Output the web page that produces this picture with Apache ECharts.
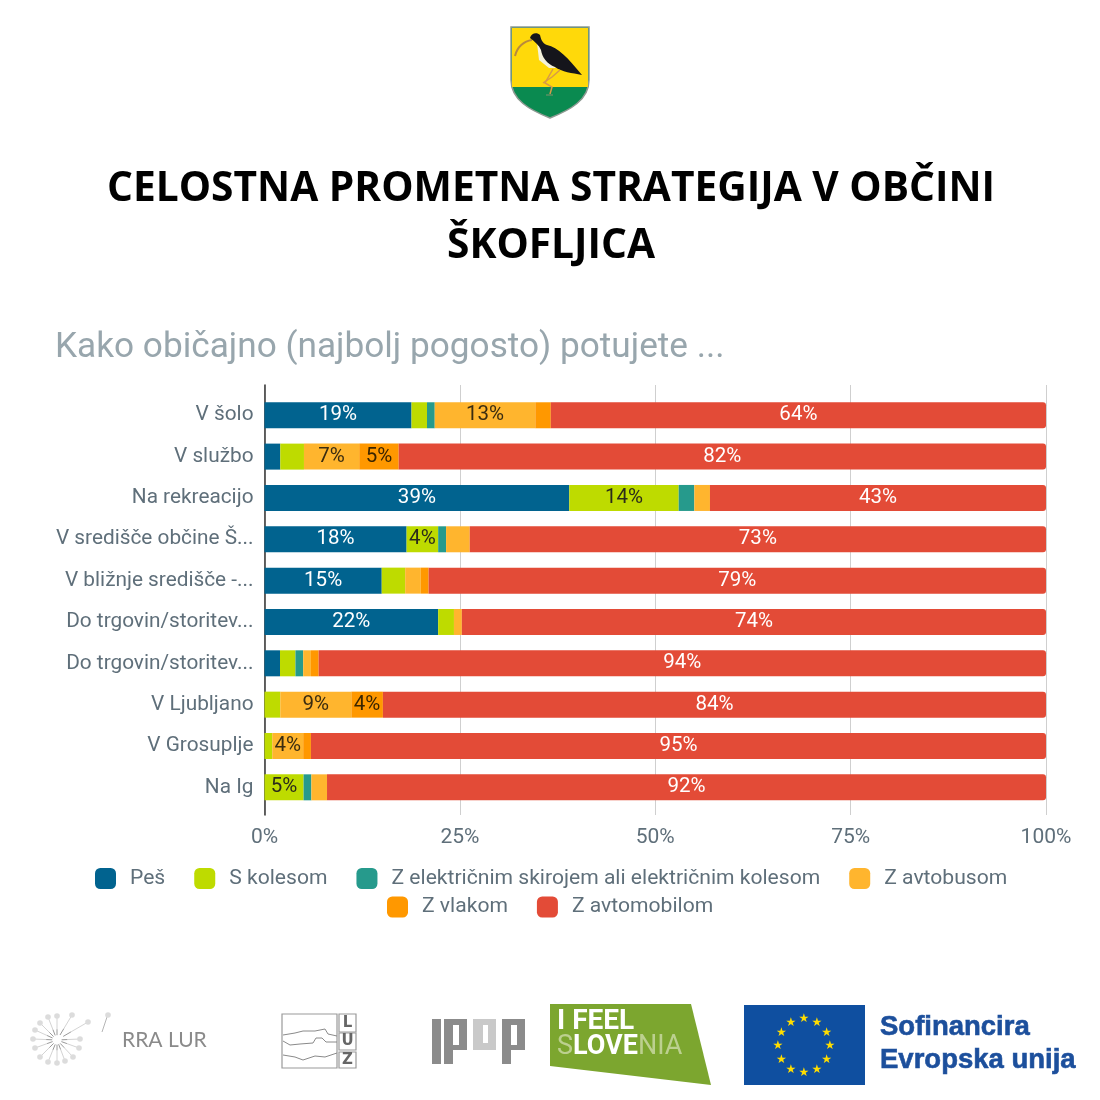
<!DOCTYPE html>
<html><head><meta charset="utf-8">
<style>html,body{margin:0;padding:0;background:#fff}#c{width:1100px;height:1100px}</style>
<script src="https://cdn.jsdelivr.net/npm/echarts@6/dist/echarts.min.js"></script>
</head><body><div id="c"></div>
<script>
const categories = ['V šolo','V službo','Na rekreacijo','V središče občine Š...','V bližnje središče -...','Do trgovin/storitev...','Do trgovin/storitev...','V Ljubljano','V Grosuplje','Na Ig'];
const seriesNames = ['Peš','S kolesom','Z električnim skirojem ali električnim kolesom','Z avtobusom','Z vlakom','Z avtomobilom'];
const pes       = [19, 2, 39, 18, 15, 22, 2, 0, 0, 0];
const kolo      = [2, 3, 14, 4, 3, 2, 2, 2, 1, 5];
const skiro     = [1, 0, 2, 1, 0, 0, 1, 0, 0, 1];
const avtobus   = [13, 7, 2, 3, 2, 1, 1, 9, 4, 2];
const vlak      = [2, 5, 0, 0, 1, 0, 1, 4, 1, 0];
const avto      = [64, 82, 43, 73, 79, 74, 94, 84, 95, 92];
const colors = ['#01638f','#bedb00','#269a8c','#ffb52e','#ff9800','#e34b37'];
const labelColors = ['#fff','#2b2b1a','#fff','#3a2c10','#3a2500','#fff'];
const xTicks = [0,25,50,75,100];

const seriesValues = [pes,kolo,skiro,avtobus,vlak,avto];
const axisColor = '#5f6f7a';
const font = 'Roboto';
// Percent-stacked: each row's rounded percentages are scaled to fill 100%.
const totals = categories.map((_,r)=>seriesValues.reduce((s,a)=>s+a[r],0));

const series = seriesNames.map((name,i)=>({
  name, type:'bar', stack:'all', xAxisIndex:1, yAxisIndex:1, barWidth:26,
  data: seriesValues[i].map((v,r)=>v*100/totals[r]),
  itemStyle:{color:colors[i], borderRadius: i===5?[0,3,3,0]:0},
  label:{show:true, position:'inside', fontFamily:font, fontSize:20.5, color:labelColors[i],
    formatter:p=>seriesValues[i][p.dataIndex]>=4?seriesValues[i][p.dataIndex]+'%':''}
}));

function txt(x,y,text,o){return {type:'text',silent:true,style:Object.assign({x,y,text,fontFamily:font,textAlign:'left',textVerticalAlign:'middle'},o||{})};}
let pathCount=0;
function path(d,fill,stroke,lw){
  const name='logoPath'+(pathCount++);
  echarts.graphic.registerShape(name,echarts.graphic.extendPath(d,{}));
  return {type:name,silent:true,style:{fill:fill||'none',stroke:stroke||'none',lineWidth:lw||0}};
}
function rect(x,y,w,h,fill,stroke,lw){return {type:'rect',silent:true,shape:{x,y,width:w,height:h},style:{fill:fill||'transparent',stroke:stroke||null,lineWidth:lw||0}};}
function line(pts,stroke,lw){return {type:'polyline',silent:true,shape:{points:pts},style:{fill:null,stroke,lineWidth:lw}};}
function poly(pts,fill,stroke,lw){return {type:'polygon',silent:true,shape:{points:pts},style:{fill,stroke:stroke||null,lineWidth:lw||0}};}

const g = [];
// coat of arms
g.push(path('M511 27 L589 27 L589 80 C589 100 570 110 550 118 C530 110 511 100 511 80 Z','#0a8a50','#8f9a93',1.5));
g.push(poly([[512,28],[588,28],[588,87],[512,87]],'#ffd90a'));
g.push(path('M532 40 C524 41 517 47 515 56','none','#b98a3c',2));
g.push(path('M537 43 L539 60 L549 68 L556 68 L546 56 Z','#f4f2dc'));
g.push(path('M530 38 C531 33 537 32 540 35 C541 39 542 43 547 45 C558 47 568 58 582 75 C572 73 562 72 555 67 C547 64 542 57 541 50 C539 45 535 42 530 38 Z','#15151b'));
g.push(path('M553 69 L545 83 L552 87 L550 94','none','#d79a48',1.5));
g.push(path('M560 70 L552 77 L543 83','none','#d79a48',1.5));
g.push(line([[546,95],[553,95]],'#5a8f63',1.5));

// heading
g.push(txt(551,189,'CELOSTNA PROMETNA STRATEGIJA V OBČINI',{fontFamily:'Open Sans',fontWeight:700,fontSize:40.7,fill:'#000',textAlign:'center'}));
g.push(txt(551,246,'ŠKOFLJICA',{fontFamily:'Open Sans',fontWeight:700,fontSize:40.7,fill:'#000',textAlign:'center'}));
// chart title
g.push(txt(55,348,'Kako običajno (najbolj pogosto) potujete ...',{fontSize:35.2,fill:'#98a6ad'}));

// RRA LUR logo
const cx=57, cy=1040;
[[33,1039],[35,1030],[40,1023],[48,1017],[57,1016],[72,1015],[88,1022],[80,1039],[79,1048],[73,1057],[65,1061],[57,1063],[48,1062],[40,1057],[35,1048]].forEach(p=>{
  const ix=cx+(p[0]-cx)*0.2, iy=cy+(p[1]-cy)*0.2, mx=cx+(p[0]-cx)*0.45, my=cy+(p[1]-cy)*0.45;
  g.push(line([[mx,my],p],'#d4d4d4',1));
  g.push(line([[ix,iy],[mx,my]],'#9a9a9a',1));
  g.push({type:'circle',silent:true,shape:{cx:p[0],cy:p[1],r:2.8},style:{fill:'#dcdcdc'}});
});
g.push(line([[102,1032],[107,1017]],'#b5b5b5',1));
g.push({type:'circle',silent:true,shape:{cx:108,cy:1015,r:2.8},style:{fill:'#dcdcdc'}});
g.push(txt(122,1040,'RRA LUR',{fontSize:21,fill:'#8a8a8a',fontFamily:'Lato'}));

// LUZ logo
g.push(rect(282,1014,55,54,'#fff','#9a9a9a',1.2));
[['L',1014,18],['U',1033,17],['Z',1052,16]].forEach(l=>{
  g.push(rect(339,l[1],17,l[2],'#fff','#9a9a9a',1.2));
  g.push(txt(347.5,l[1]+l[2]/2,l[0],{fontFamily:'DejaVu Sans',fontWeight:700,fontSize:15,fill:'#666',textAlign:'center'}));
});
g.push(line([[283,1035],[295,1033],[303,1031],[315,1031],[325,1029],[328,1034],[337,1036]],'#8a8a8a',1));
g.push(line([[283,1041],[290,1045],[300,1044],[313,1043],[316,1038],[322,1038],[326,1042],[337,1042]],'#8a8a8a',1));
g.push(line([[283,1055],[295,1057],[303,1060],[315,1056],[325,1057],[337,1053]],'#8a8a8a',1));

// IPOP logo
g.push(rect(432,1019,9,45,'#8b8b8b'));
g.push(rect(444,1019,9,45,'#8b8b8b'));
g.push(rect(444,1019,23,31,'#8b8b8b'));
g.push(rect(453,1025,6,20,'#fff'));
g.push(rect(473,1019,23,31,'#c9c9c9'));
g.push(rect(483,1025,5,18,'#fff'));
g.push(rect(502,1019,9,45,'#8b8b8b'));
g.push(rect(502,1019,23,31,'#8b8b8b'));
g.push(rect(511,1025,6,20,'#fff'));

// I feel Slovenia
g.push(poly([[550,1004],[691,1004],[711,1085],[550,1066]],'#7ca62f'));
g.push(txt(557,1022,'I FEEL',{fontFamily:'Roboto',fontWeight:700,fontSize:28,fill:'#fff'}));
g.push(txt(557,1047,'{a|S}{b|LOVE}{a|NIA}',{rich:{
  a:{fontFamily:'Roboto',fontSize:27,fill:'#bcd08f'},
  b:{fontFamily:'Roboto',fontSize:27,fontWeight:700,fill:'#fff'}}}));

// EU flag
g.push(rect(744,1005,121,80,'#0f4fa0'));
for(let i=0;i<12;i++){
  const r=i*30*Math.PI/180;
  g.push(txt(804+Math.cos(r)*26,1046+Math.sin(r)*27,'★',{fontFamily:'DejaVu Sans',fontSize:12,fill:'#ffdd00',textAlign:'center'}));
}
g.push(txt(880,1027,'Sofinancira',{fontFamily:'Liberation Sans',fontWeight:700,fontSize:27.5,fill:'#1c4f9c',stroke:'#1c4f9c',lineWidth:0.6}));
g.push(txt(880,1060,'Evropska unija',{fontFamily:'Liberation Sans',fontWeight:700,fontSize:27.5,fill:'#1c4f9c',stroke:'#1c4f9c',lineWidth:0.6}));

const legendBase = {orient:'horizontal',padding:0,itemWidth:21,itemHeight:21,itemGap:29,icon:'roundRect',
  itemStyle:{borderRadius:2},
  textStyle:{fontFamily:font,fontSize:21.1,color:axisColor,padding:[0,0,0,9]},selectedMode:false};

const chart = echarts.init(document.getElementById('c'),null,{renderer:'canvas'});
chart.setOption({
  animation:false, backgroundColor:'#fff',
  grid:[
    {left:264.5,top:385,width:781.5,height:430},
    {left:264.5,top:394.6,width:781.5,height:413.4}
  ],
  xAxis:[
    {type:'value',gridIndex:0,min:0,max:100,interval:25,
     axisLine:{show:false},axisTick:{show:false},
     splitLine:{show:true,lineStyle:{color:'#cfcfcf',width:1}},
     axisLabel:{margin:12,fontFamily:font,fontSize:21,color:axisColor,formatter:v=>xTicks.includes(v)?v+'%':''}},
    {type:'value',gridIndex:1,min:0,max:100,interval:25,show:false}
  ],
  yAxis:[
    {type:'category',gridIndex:0,data:[''],inverse:true,
     axisLine:{show:true,lineStyle:{color:'#333',width:1.5}},axisTick:{show:false},axisLabel:{show:false},splitLine:{show:false}},
    {type:'category',gridIndex:1,data:categories,inverse:true,
     axisLine:{show:false},axisTick:{show:false},
     axisLabel:{margin:11,fontFamily:font,fontSize:20.8,color:axisColor}}
  ],
  legend:[
    Object.assign({},legendBase,{left:95,top:868,data:seriesNames.slice(0,4)}),
    Object.assign({},legendBase,{left:387,top:896.5,data:seriesNames.slice(4)})
  ],
  series,
  graphic:{elements:g}
});
</script></body></html>
